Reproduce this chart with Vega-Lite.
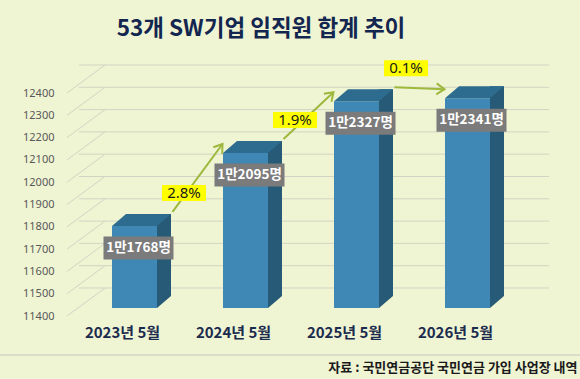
{
  "$schema": "https://vega.github.io/schema/vega-lite/v6.json",
  "width": 444,
  "height": 223,
  "autosize": {"type": "none"},
  "padding": {"left": 79, "top": 85, "right": 57, "bottom": 71},
  "background": "#eff4d3",
  "config": {
    "view": {"stroke": null},
    "font": "Noto Sans CJK KR",
    "axis": {"domain": false, "ticks": false, "grid": false},
    "axisY": {
      "tickCount": 11,
      "format": "d",
      "labelOverlap": false,
      "labelOffset": 8,
      "labelPadding": 25,
      "labelFont": "Noto Sans",
      "labelFontSize": 11,
      "labelColor": "#595959"
    }
  },
  "title": {
    "text": "53개 SW기업 임직원 합계 추이",
    "font": "Noto Sans CJK KR",
    "fontSize": 22.5,
    "fontWeight": "bold",
    "color": "#13264f",
    "anchor": "middle",
    "frame": "group",
    "dx": -40,
    "offset": 20
  },
  "datasets": {
    "staff": [
      {"month": "2023년 5월", "v": 11768},
      {"month": "2024년 5월", "v": 12095},
      {"month": "2025년 5월", "v": 12327},
      {"month": "2026년 5월", "v": 12341}
    ],
    "levels": [
      {"t": 11400}, {"t": 11500}, {"t": 11600}, {"t": 11700}, {"t": 11800},
      {"t": 11900}, {"t": 12000}, {"t": 12100}, {"t": 12200}, {"t": 12300}, {"t": 12400}
    ]
  },
  "layer": [
    {
      "data": {"name": "levels"},
      "mark": {"type": "rule", "color": "#d2d5c3", "strokeWidth": 1, "xOffset": 26, "x2Offset": 26, "yOffset": -20, "y2Offset": -20},
      "encoding": {
        "y": {
          "field": "t",
          "type": "quantitative",
          "scale": {"domain": [11400, 12400], "zero": false, "nice": false},
          "axis": {
            "title": null,
            "values": [11400, 11500, 11600, 11700, 11800, 11900, 12000, 12100, 12200, 12300, 12400],
            "tickCount": 11,
            "format": "d",
            "labelOverlap": false
          }
        }
      }
    },
    {
      "data": {"name": "levels"},
      "mark": {"type": "point", "shape": "M-12,8L26,-20", "size": 4, "filled": false, "stroke": "#d2d5c3", "strokeWidth": 1, "opacity": 1},
      "encoding": {
        "x": {"value": 0},
        "y": {"field": "t", "type": "quantitative"}
      }
    },
    {
      "data": {"name": "staff"},
      "encoding": {
        "x": {
          "field": "month",
          "type": "nominal",
          "scale": {"paddingInner": 0, "paddingOuter": 0},
          "axis": {
            "title": "자료 : 국민연금공단 국민연금 가입 사업장 내역",
            "titleX": 498,
            "titleY": 59,
            "titleAlign": "right",
            "titleBaseline": "middle",
            "titleFont": "Noto Sans CJK KR",
            "titleFontSize": 13,
            "titleFontWeight": "bold",
            "titleColor": "#1a1a1a",
            "labelAngle": 0,
            "labelOffset": -12,
            "labelPadding": 17,
            "labelFont": "Noto Sans CJK KR",
            "labelFontSize": 15,
            "labelFontWeight": "bold",
            "labelColor": "#1b2b4d"
          }
        },
        "y": {"field": "v", "type": "quantitative"}
      },
      "layer": [
        {
          "mark": {"type": "bar", "color": "#275a76", "width": 14, "xOffset": 29.5, "yOffset": -12, "y2Offset": -12},
          "encoding": {"y2": {"datum": 11400}}
        },
        {
          "mark": {"type": "point", "shape": "M22.5,-12L36.5,-12L22.5,0Z", "size": 4, "filled": true, "fill": "#275a76", "opacity": 1, "strokeWidth": 0},
          "encoding": {"y": {"datum": 11400}}
        },
        {
          "mark": {"type": "bar", "color": "#3f88b5", "width": 45},
          "encoding": {"y2": {"datum": 11400}}
        },
        {
          "mark": {"type": "point", "shape": "M-22.5,0L22.5,0L36.5,-12L-8.5,-12Z", "size": 4, "filled": true, "fill": "#2d6b8f", "opacity": 1, "strokeWidth": 0}
        },
        {
          "mark": {"type": "point", "shape": "M-35,-11.5L35,-11.5L35,11.5L-35,11.5Z", "size": 4, "filled": true, "fill": "#7b7b7b", "opacity": 1, "strokeWidth": 0, "xOffset": 4, "yOffset": 22}
        },
        {
          "transform": [
            {"calculate": "floor(datum.v / 10000) + '만' + (datum.v % 10000) + '명'", "as": "label"}
          ],
          "mark": {"type": "text", "color": "#ffffff", "font": "Noto Sans CJK KR", "fontSize": 13.5, "fontWeight": "bold", "align": "center", "baseline": "middle", "xOffset": 4, "yOffset": 22},
          "encoding": {"text": {"field": "label"}}
        }
      ]
    },
    {
      "data": {"name": "staff"},
      "transform": [
        {
          "window": [
            {"op": "lead", "field": "v", "as": "v1"},
            {"op": "lead", "field": "month", "as": "m1"}
          ],
          "sort": [{"field": "month", "order": "ascending"}]
        },
        {"filter": "datum.m1 != null"},
        {"calculate": "(datum.v1 - datum.v) / datum.v", "as": "growth"}
      ],
      "layer": [
        {
          "mark": {"type": "rule", "color": "#9db83c", "strokeWidth": 2, "xOffset": 38, "x2Offset": -23, "yOffset": -14, "y2Offset": -9},
          "encoding": {
            "x": {"field": "month", "type": "nominal"},
            "x2": {"field": "m1"},
            "y": {"field": "v", "type": "quantitative"},
            "y2": {"field": "v1"}
          }
        },
        {
          "transform": [{"filter": "datum.month == '2023년 5월'"}],
          "mark": {"type": "point", "shape": "M-8,-5.5L0,0L-8,5.5", "size": 4, "filled": false, "stroke": "#9db83c", "strokeWidth": 2, "opacity": 1, "angle": -53.7, "xOffset": -23, "yOffset": -9},
          "encoding": {"x": {"field": "m1", "type": "nominal"}, "y": {"field": "v1", "type": "quantitative"}}
        },
        {
          "transform": [{"filter": "datum.month == '2024년 5월'"}],
          "mark": {"type": "point", "shape": "M-8,-5.5L0,0L-8,5.5", "size": 4, "filled": false, "stroke": "#9db83c", "strokeWidth": 2, "opacity": 1, "angle": -43.2, "xOffset": -23, "yOffset": -9},
          "encoding": {"x": {"field": "m1", "type": "nominal"}, "y": {"field": "v1", "type": "quantitative"}}
        },
        {
          "transform": [{"filter": "datum.month == '2025년 5월'"}],
          "mark": {"type": "point", "shape": "M-8,-5.5L0,0L-8,5.5", "size": 4, "filled": false, "stroke": "#9db83c", "strokeWidth": 2, "opacity": 1, "angle": 2.3, "xOffset": -23, "yOffset": -9},
          "encoding": {"x": {"field": "m1", "type": "nominal"}, "y": {"field": "v1", "type": "quantitative"}}
        },
        {
          "mark": {"type": "point", "shape": "M-22,-8L22,-8L22,8L-22,8Z", "size": 4, "filled": true, "fill": "#ffff00", "opacity": 1, "strokeWidth": 0, "xOffset": -6, "yOffset": -33},
          "encoding": {
            "x": {"field": "month", "type": "nominal", "bandPosition": 1},
            "y": {"field": "v", "type": "quantitative"}
          }
        },
        {
          "mark": {"type": "text", "color": "#1a1a1a", "font": "Noto Sans", "fontSize": 15, "align": "center", "baseline": "middle", "xOffset": -6, "yOffset": -33},
          "encoding": {
            "x": {"field": "month", "type": "nominal", "bandPosition": 1},
            "y": {"field": "v", "type": "quantitative"},
            "text": {"field": "growth", "type": "quantitative", "format": ".1%"}
          }
        }
      ]
    },
    {
      "data": {"values": [{}]},
      "mark": {"type": "rule", "color": "#d3d6c6", "strokeWidth": 1.5},
      "encoding": {
        "x": {"value": -79},
        "x2": {"value": {"expr": "width + 57"}},
        "y": {"value": {"expr": "height + 47"}}
      }
    }
  ]
}
